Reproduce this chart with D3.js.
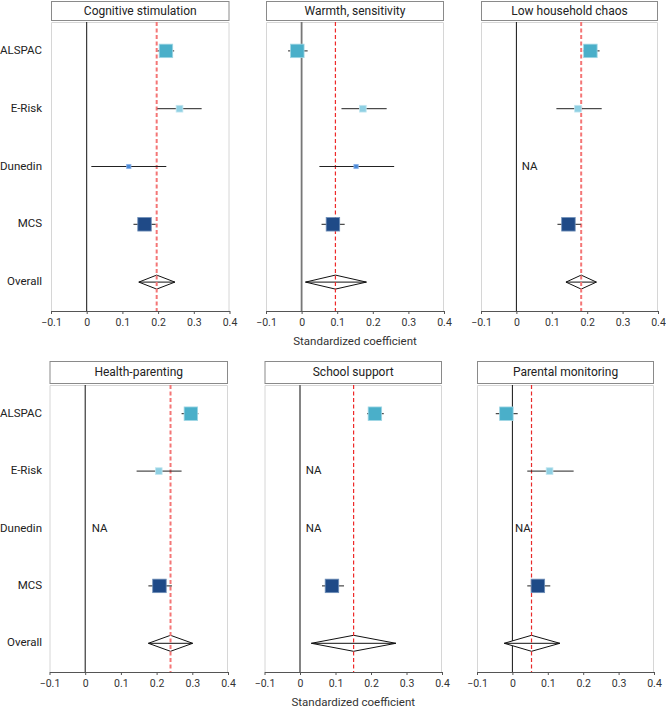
<!DOCTYPE html>
<html><head><meta charset="utf-8">
<script src="https://cdn.jsdelivr.net/npm/d3@7"></script>
<style>body{margin:0;background:#fff;} svg{display:block;font-family:Roboto,"Open Sans",sans-serif;}</style>
</head><body>
<svg id="chart" width="666" height="708"></svg>
<script>
const cohorts = ["ALSPAC", "E-Risk", "Dunedin", "MCS"];
const rowLabels = ["ALSPAC", "E-Risk", "Dunedin", "MCS", "Overall"];
const domains = ["Cognitive stimulation", "Warmth, sensitivity", "Low household chaos",
                 "Health-parenting", "School support", "Parental monitoring"];
const cohortWeights = [1, 0.25, 0.1, 1];
const estimates = [
  [0.222, 0.260, 0.118, 0.162],
  [-0.012, 0.172, 0.153, 0.088],
  [0.209, 0.174, null, 0.147],
  [0.296, 0.206, null, 0.208],
  [0.211, null, null, 0.090],
  [-0.017, 0.105, null, 0.072]
];
const lower = [
  [0.199, 0.198, 0.013, 0.131],
  [-0.038, 0.112, 0.050, 0.056],
  [0.188, 0.113, null, 0.116],
  [0.270, 0.144, null, 0.177],
  [0.189, null, null, 0.062],
  [-0.047, 0.042, null, 0.042]
];
const upper = [
  [0.245, 0.322, 0.223, 0.193],
  [0.017, 0.239, 0.260, 0.121],
  [0.235, 0.241, null, 0.182],
  [0.317, 0.270, null, 0.243],
  [0.236, null, null, 0.124],
  [0.015, 0.173, null, 0.107]
];
const overall   = [0.196, 0.095, 0.183, 0.239, 0.151, 0.054];
const overallLo = [0.146, 0.011, 0.140, 0.177, 0.032, -0.023];
const overallHi = [0.247, 0.182, 0.226, 0.301, 0.270, 0.134];
const xTicks = [-0.1, 0, 0.1, 0.2, 0.3, 0.4];
const xDomain = [-0.1, 0.4];
const axisTitle = "Standardized coefficient";
const naLabel = "NA";

// styling
const FONT = "Roboto, 'Open Sans', sans-serif";
const cohortColors = ["#4aafc9", "#8fd0e3", "#4a8ad8", "#1f4a87"];
const cohortStroke = ["#9fd6e4", "#c4e7f0", "#8db4ea", "#6f8fb8"];
const rows = [
  {hy0: 1, hy1: 20, top: 22, bottom: 311},
  {hy0: 361, hy1: 383, top: 385, bottom: 672}
];
const cols = [
  [[51, 229.5], [266, 444], [481, 658]],
  [[49.5, 228], [264.5, 442], [477, 654]]
];
const zeroStyle = [
  {c: "#111", w: 1}, {c: "#777", w: 1.8}, {c: "#111", w: 1},
  {c: "#111", w: 1}, {c: "#777", w: 1.8}, {c: "#111", w: 1}
];
const refStyle = [
  {c: "#f47676", w: 2}, {c: "#ee2a2a", w: 1.2}, {c: "#f47676", w: 2},
  {c: "#f47676", w: 2}, {c: "#ee2a2a", w: 1.2}, {c: "#e82a2a", w: 1.2}
];
const naOffset = [0.015, 0.015, 0.015, 0.018, 0.016, 0.007];

const svg = d3.select("#chart");
const sizeScale = d3.scaleSqrt().domain([0, 1]).range([0, 13.5]);

domains.forEach((title, p) => {
  const r = Math.floor(p / 3), c = p % 3;
  const R = rows[r], [x0, x1] = cols[r][c];
  const x = d3.scaleLinear().domain(xDomain).range([x0, x1]);
  const y = d3.scaleBand().domain(rowLabels).range([R.top, R.bottom]);
  const yc = d => y(d) + y.bandwidth() / 2;
  const g = svg.append("g");

  // header strip
  g.append("rect").attr("x", x0 + 0.5).attr("y", R.hy0 + 0.5)
    .attr("width", x1 - x0 - 1).attr("height", R.hy1 - R.hy0)
    .attr("fill", "#fff").attr("stroke", "#8a8a8a").attr("stroke-width", 1);
  g.append("text").attr("x", (x0 + x1) / 2).attr("y", (R.hy0 + R.hy1) / 2 + 1)
    .attr("text-anchor", "middle").attr("dominant-baseline", "middle")
    .attr("font-size", 12).attr("fill", "#222").text(title);

  // panel frame (light)
  g.append("path").attr("fill", "none").attr("stroke", "#d6d6d6").attr("stroke-width", 1)
    .attr("d", `M${x0 + 0.5},${R.bottom}V${R.top + 0.5}H${x1 - 0.5}V${R.bottom}`);

  // zero line
  g.append("line").attr("x1", x(0)).attr("x2", x(0)).attr("y1", R.top).attr("y2", R.bottom)
    .attr("stroke", zeroStyle[p].c).attr("stroke-width", zeroStyle[p].w);

  // overall diamond
  const oy = yc("Overall"), dh = r === 0 ? 7 : 8;
  g.append("path").attr("fill", "#fff").attr("stroke", "#111").attr("stroke-width", 1)
    .attr("d", `M${x(overallLo[p])},${oy}L${x(overall[p])},${oy - dh}L${x(overallHi[p])},${oy}L${x(overall[p])},${oy + dh}Z`);
  g.append("line").attr("x1", x(overallLo[p])).attr("x2", x(overallHi[p]))
    .attr("y1", oy).attr("y2", oy).attr("stroke", "#111").attr("stroke-width", 1);

  // reference dashed line at pooled estimate
  g.append("line").attr("x1", x(overall[p])).attr("x2", x(overall[p]))
    .attr("y1", R.top).attr("y2", R.bottom)
    .attr("stroke", refStyle[p].c).attr("stroke-width", refStyle[p].w)
    .attr("stroke-dasharray", "4,2.5");

  // cohorts
  cohorts.forEach((co, i) => {
    const est = estimates[p][i];
    const cy = yc(co);
    if (est === null) {
      g.append("text").attr("x", x(naOffset[p])).attr("y", cy)
        .attr("dominant-baseline", "middle").attr("font-size", 11.5).attr("fill", "#222")
        .text(naLabel);
      return;
    }
    g.append("line").attr("x1", x(lower[p][i])).attr("x2", x(upper[p][i]))
      .attr("y1", cy).attr("y2", cy).attr("stroke", "#222").attr("stroke-width", 1);
    const s = sizeScale(cohortWeights[i]);
    g.append("rect").attr("x", x(est) - s / 2).attr("y", cy - s / 2)
      .attr("width", s).attr("height", s)
      .attr("fill", cohortColors[i]).attr("stroke", cohortStroke[i]).attr("stroke-width", 0.8);
  });

  // x axis
  const ax = g.append("g").attr("transform", `translate(0,${R.bottom})`)
    .call(d3.axisBottom(x).tickValues(xTicks).tickSize(3).tickSizeOuter(0)
      .tickFormat(d => d === 0 ? "0" : d3.format(".1f")(d)));
  ax.select(".domain").attr("stroke", "#555");
  ax.selectAll(".tick line").attr("stroke", "#555");
  ax.selectAll(".tick text").attr("font-size", 10.5).attr("fill", "#333")
    .attr("font-family", FONT).attr("dy", "0.85em");

  // y labels on first column
  if (c === 0) {
    rowLabels.forEach(l => {
      svg.append("text").attr("x", 42).attr("y", yc(l))
        .attr("text-anchor", "end").attr("dominant-baseline", "middle")
        .attr("font-size", 11.5).attr("fill", "#222").text(l);
    });
  }
  // axis title under middle column
  if (c === 1) {
    svg.append("text").attr("x", (x0 + x1) / 2).attr("y", R.bottom + 31)
      .attr("text-anchor", "middle").attr("dominant-baseline", "middle")
      .attr("font-size", 11.5).attr("fill", "#333").text(axisTitle);
  }
});
</script>
</body></html>
